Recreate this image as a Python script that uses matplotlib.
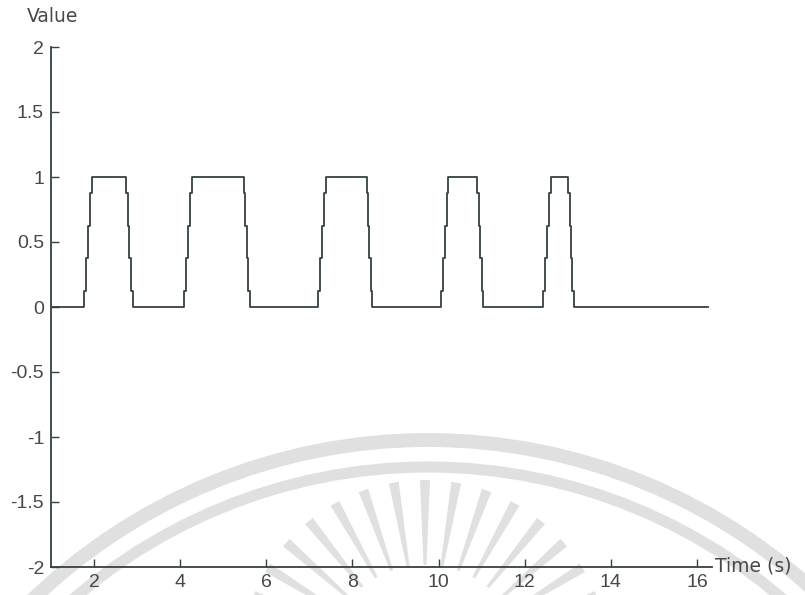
import numpy as np
import matplotlib
matplotlib.use("Agg")
import matplotlib.pyplot as plt
from matplotlib.patches import Arc, Polygon

plt.rcParams["axes.unicode_minus"] = False

# Pulse timing (s): start of rise, top reached, start of fall, back at zero
rise_start = [1.77, 4.09, 7.21, 10.05, 12.43]
rise_end = [1.95, 4.27, 7.38, 10.23, 12.60]
fall_start = [2.74, 5.48, 8.33, 10.90, 13.01]
fall_end = [2.90, 5.61, 8.46, 11.03, 13.14]
# quantised levels passed through on each edge
step_levels = [0.12, 0.38, 0.62, 0.88, 1.0]
t_begin, t_end = 1.0, 16.25

x_ticks = [2, 4, 6, 8, 10, 12, 14, 16]
y_ticks = [-2, -1.5, -1, -0.5, 0, 0.5, 1, 1.5, 2]
y_tick_labels = ["-2", "-1.5", "-1", "-0.5", "0", "0.5", "1", "1.5", "2"]

# build the staircase waveform (values hold until the next sample)
t = [t_begin]
v = [0.0]
for rs, re, fs, fe in zip(rise_start, rise_end, fall_start, fall_end):
    up = np.linspace(rs, re, len(step_levels))
    t.extend(up)
    v.extend(step_levels)
    down = np.linspace(fs, fe, len(step_levels))
    t.extend(down)
    v.extend(step_levels[-2::-1] + [0.0])
t.append(t_end)
v.append(0.0)

W, H = 805, 595
fig = plt.figure(figsize=(W / 100, H / 100), dpi=100)
fig.patch.set_facecolor("white")

# faint seal printed behind the plot
bg = fig.add_axes([0, 0, 1, 1], zorder=-1)
bg.set_xlim(0, W)
bg.set_ylim(H, 0)
bg.axis("off")
seal_col = "#e0e0e0"
ring_c = (428, 1010)
for r, lw in [(570, 10), (543, 8)]:
    bg.add_patch(Arc(ring_c, 2 * r, 2 * r, theta1=180, theta2=360,
                     color=seal_col, lw=lw))
# sunburst rays in the middle of the seal
ray_c = (425, 665)
for ang in np.linspace(-158, -22, 15):
    a = np.deg2rad(ang)
    r0, r1 = 100, 185
    perp = a + np.pi / 2
    p0 = (ray_c[0] + r0 * np.cos(a), ray_c[1] + r0 * np.sin(a))
    p1 = (ray_c[0] + r1 * np.cos(a), ray_c[1] + r1 * np.sin(a))
    w0, w1 = 1.5, 5
    poly = [(p0[0] - w0 * np.cos(perp), p0[1] - w0 * np.sin(perp)),
            (p0[0] + w0 * np.cos(perp), p0[1] + w0 * np.sin(perp)),
            (p1[0] + w1 * np.cos(perp), p1[1] + w1 * np.sin(perp)),
            (p1[0] - w1 * np.cos(perp), p1[1] - w1 * np.sin(perp))]
    bg.add_patch(Polygon(poly, closed=True, color=seal_col, lw=0))

ax = fig.add_axes([51 / W, 28 / H, (712 - 51) / W, (567 - 47) / H])
ax.patch.set_alpha(0)
line_col = "#36423e"
ax.plot(t, v, drawstyle="steps-post", color=line_col, lw=1.3)

ax.set_xlim(t_begin, 16.35)
ax.set_ylim(-2, 2)
ax.set_xticks(x_ticks)
ax.set_xticklabels([str(x) for x in x_ticks])
ax.set_yticks(y_ticks)
ax.set_yticklabels(y_tick_labels)

for s in ("top", "right"):
    ax.spines[s].set_visible(False)
for s in ("left", "bottom"):
    ax.spines[s].set_color(line_col)
    ax.spines[s].set_linewidth(1.3)

txt_col = "#484848"
ax.tick_params(direction="in", length=6, width=1.0, color=line_col,
               labelcolor=txt_col, labelsize=14, pad=5)
for lab in ax.get_xticklabels() + ax.get_yticklabels():
    lab.set_fontfamily("Liberation Sans")

fig.text(27 / W, 1 - 17 / H, "Value", fontsize=13.5, color=txt_col,
         family="DejaVu Sans", ha="left", va="center")
fig.text(715 / W, 1 - 566 / H, "Time (s)", fontsize=13.5, color=txt_col,
         family="DejaVu Sans", ha="left", va="center")

fig.savefig("out.png", dpi=100)
